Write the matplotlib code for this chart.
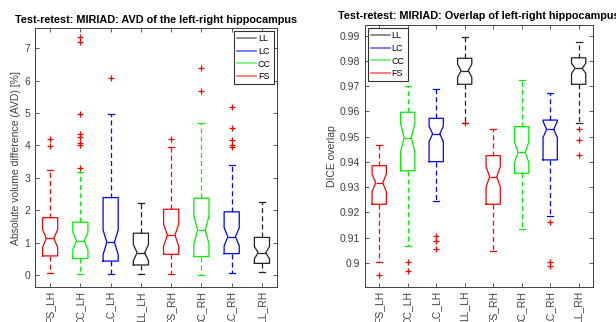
import matplotlib
matplotlib.use("Agg")
import matplotlib.pyplot as plt
from matplotlib.lines import Line2D

plt.rcParams['font.family'] = ['Liberation Sans', 'DejaVu Sans']

labels = ['FS_LH', 'CC_LH', 'LC_LH', 'LL_LH', 'FS_RH', 'CC_RH', 'LC_RH', 'LL_RH']
box_colors = ['#ff0000', '#00ee00', '#0000ff', '#222222', '#ff0000', '#00ee00', '#0000ff', '#222222']

# AVD panel
avd_q1 = [0.59, 0.51, 0.43, 0.31, 0.64, 0.57, 0.66, 0.36]
avd_med = [1.13, 1.05, 1.01, 0.69, 1.23, 1.39, 1.18, 0.69]
avd_q3 = [1.77, 1.63, 2.39, 1.29, 2.03, 2.37, 1.95, 1.16]
avd_whislo = [0.05, 0.02, 0.02, 0.02, 0.02, 0.00, 0.05, 0.08]
avd_whishi = [3.24, 3.19, 4.96, 2.21, 3.96, 4.68, 3.40, 2.26]
avd_notch = [0.28, 0.27, 0.38, 0.25, 0.34, 0.43, 0.28, 0.19]
avd_fliers = [[4.19, 3.98], [7.36, 7.19, 4.97, 4.35, 4.27, 4.08, 4.02, 3.29], [6.09], [],
              [4.19], [6.40, 5.69], [5.18, 4.55, 4.17, 4.01, 3.96], []]

# DICE panel
dice_q1 = [0.9232, 0.9365, 0.9401, 0.9708, 0.9232, 0.9355, 0.9408, 0.9708]
dice_med = [0.9317, 0.9496, 0.9511, 0.9762, 0.9341, 0.9438, 0.9529, 0.9771]
dice_q3 = [0.9385, 0.9597, 0.9573, 0.9811, 0.9425, 0.9540, 0.9566, 0.9813]
dice_whislo = [0.9002, 0.9066, 0.9245, 0.9556, 0.9046, 0.9134, 0.9185, 0.9556]
dice_whishi = [0.9467, 0.9701, 0.9689, 0.9897, 0.9529, 0.9725, 0.9672, 0.9875]
dice_notch = [0.0035, 0.0056, 0.0030, 0.0026, 0.0040, 0.0040, 0.0032, 0.0020]
dice_fliers = [[0.8951], [0.9002, 0.8967], [0.9107, 0.9087, 0.9054], [0.9555], [], [],
               [0.9163, 0.9002, 0.8988], [0.9529, 0.9487, 0.9427]]

legend_labels = ['LL', 'LC', 'CC', 'FS']
legend_colors = ['#222222', '#0000ff', '#00ee00', '#ff0000']

AX_COLOR = '#404040'


def draw(ax, q1, med, q3, wlo, whi, notch, fliers):
    stats = []
    for i in range(len(labels)):
        stats.append(dict(label=labels[i], q1=q1[i], med=med[i], q3=q3[i],
                          whislo=wlo[i], whishi=whi[i],
                          cilo=med[i] - notch[i], cihi=med[i] + notch[i],
                          fliers=fliers[i]))
    res = ax.bxp(stats, positions=range(1, len(labels) + 1), widths=0.5,
                 shownotches=True, capwidths=0.2,
                 flierprops=dict(marker='+', markeredgecolor='red', markersize=4,
                                 linestyle='none', markeredgewidth=0.9))
    for i, c in enumerate(box_colors):
        res['boxes'][i].set_color(c)
        res['boxes'][i].set_linewidth(0.9)
        res['medians'][i].set_color(c)
        res['medians'][i].set_linewidth(0.9)
        for w in res['whiskers'][2 * i:2 * i + 2]:
            w.set_color(c)
            w.set_linestyle((0, (4, 2.5)))
            w.set_linewidth(0.9)
        for cp in res['caps'][2 * i:2 * i + 2]:
            cp.set_color(c)
            cp.set_linewidth(0.9)
    ax.set_xlim(0.5, len(labels) + 0.5)
    ax.set_xticks(range(1, len(labels) + 1))
    ax.set_xticklabels(labels, rotation=90, fontsize=6.8, color=AX_COLOR)
    ax.tick_params(direction='in', top=True, right=True, length=3, width=0.6,
                   colors=AX_COLOR, labelsize=7.5)
    ax.tick_params(axis='x', pad=3)
    for s in ax.spines.values():
        s.set_color(AX_COLOR)
        s.set_linewidth(0.7)


fig = plt.figure(figsize=(6.16, 3.22), dpi=100)
ax1 = fig.add_axes([0.0568, 0.1087, 0.393, 0.804])
ax2 = fig.add_axes([0.5925, 0.1096, 0.370, 0.8127])

draw(ax1, avd_q1, avd_med, avd_q3, avd_whislo, avd_whishi, avd_notch, avd_fliers)
ax1.set_ylim(-0.37, 7.62)
ax1.set_yticks(range(0, 8))
ax1.set_ylabel('Absolute volume difference (AVD) [%]', fontsize=7.5, color=AX_COLOR, labelpad=2)
ax1.set_title('Test-retest: MIRIAD: AVD of the left-right hippocampus', fontsize=7.8, fontweight='bold', pad=4)

draw(ax2, dice_q1, dice_med, dice_q3, dice_whislo, dice_whishi, dice_notch, dice_fliers)
ax2.set_ylim(0.8905, 0.9943)
yt = [0.90, 0.91, 0.92, 0.93, 0.94, 0.95, 0.96, 0.97, 0.98, 0.99]
ax2.set_yticks(yt)
ax2.set_yticklabels(['0.9'] + ['%.2f' % v for v in yt[1:]])
ax2.set_ylabel('DICE overlap', fontsize=7.5, color=AX_COLOR, labelpad=2)
ax2.set_title('Test-retest: MIRIAD: Overlap of left-right hippocampus', fontsize=7.8, fontweight='bold', pad=4)

for ax, loc in ((ax1, 'upper right'), (ax2, 'upper left')):
    handles = [Line2D([], [], color=c, lw=1.2, alpha=0.6) for c in legend_colors]
    leg = ax.legend(handles, legend_labels, loc=loc, fontsize=6.5, handlelength=2.1,
                    handletextpad=0.15, labelspacing=0.4, borderpad=0.35,
                    fancybox=False, framealpha=1, borderaxespad=0.35)
    leg.get_frame().set_edgecolor('#333333')
    leg.get_frame().set_linewidth(0.8)

fig.savefig('out.png', dpi=100)
